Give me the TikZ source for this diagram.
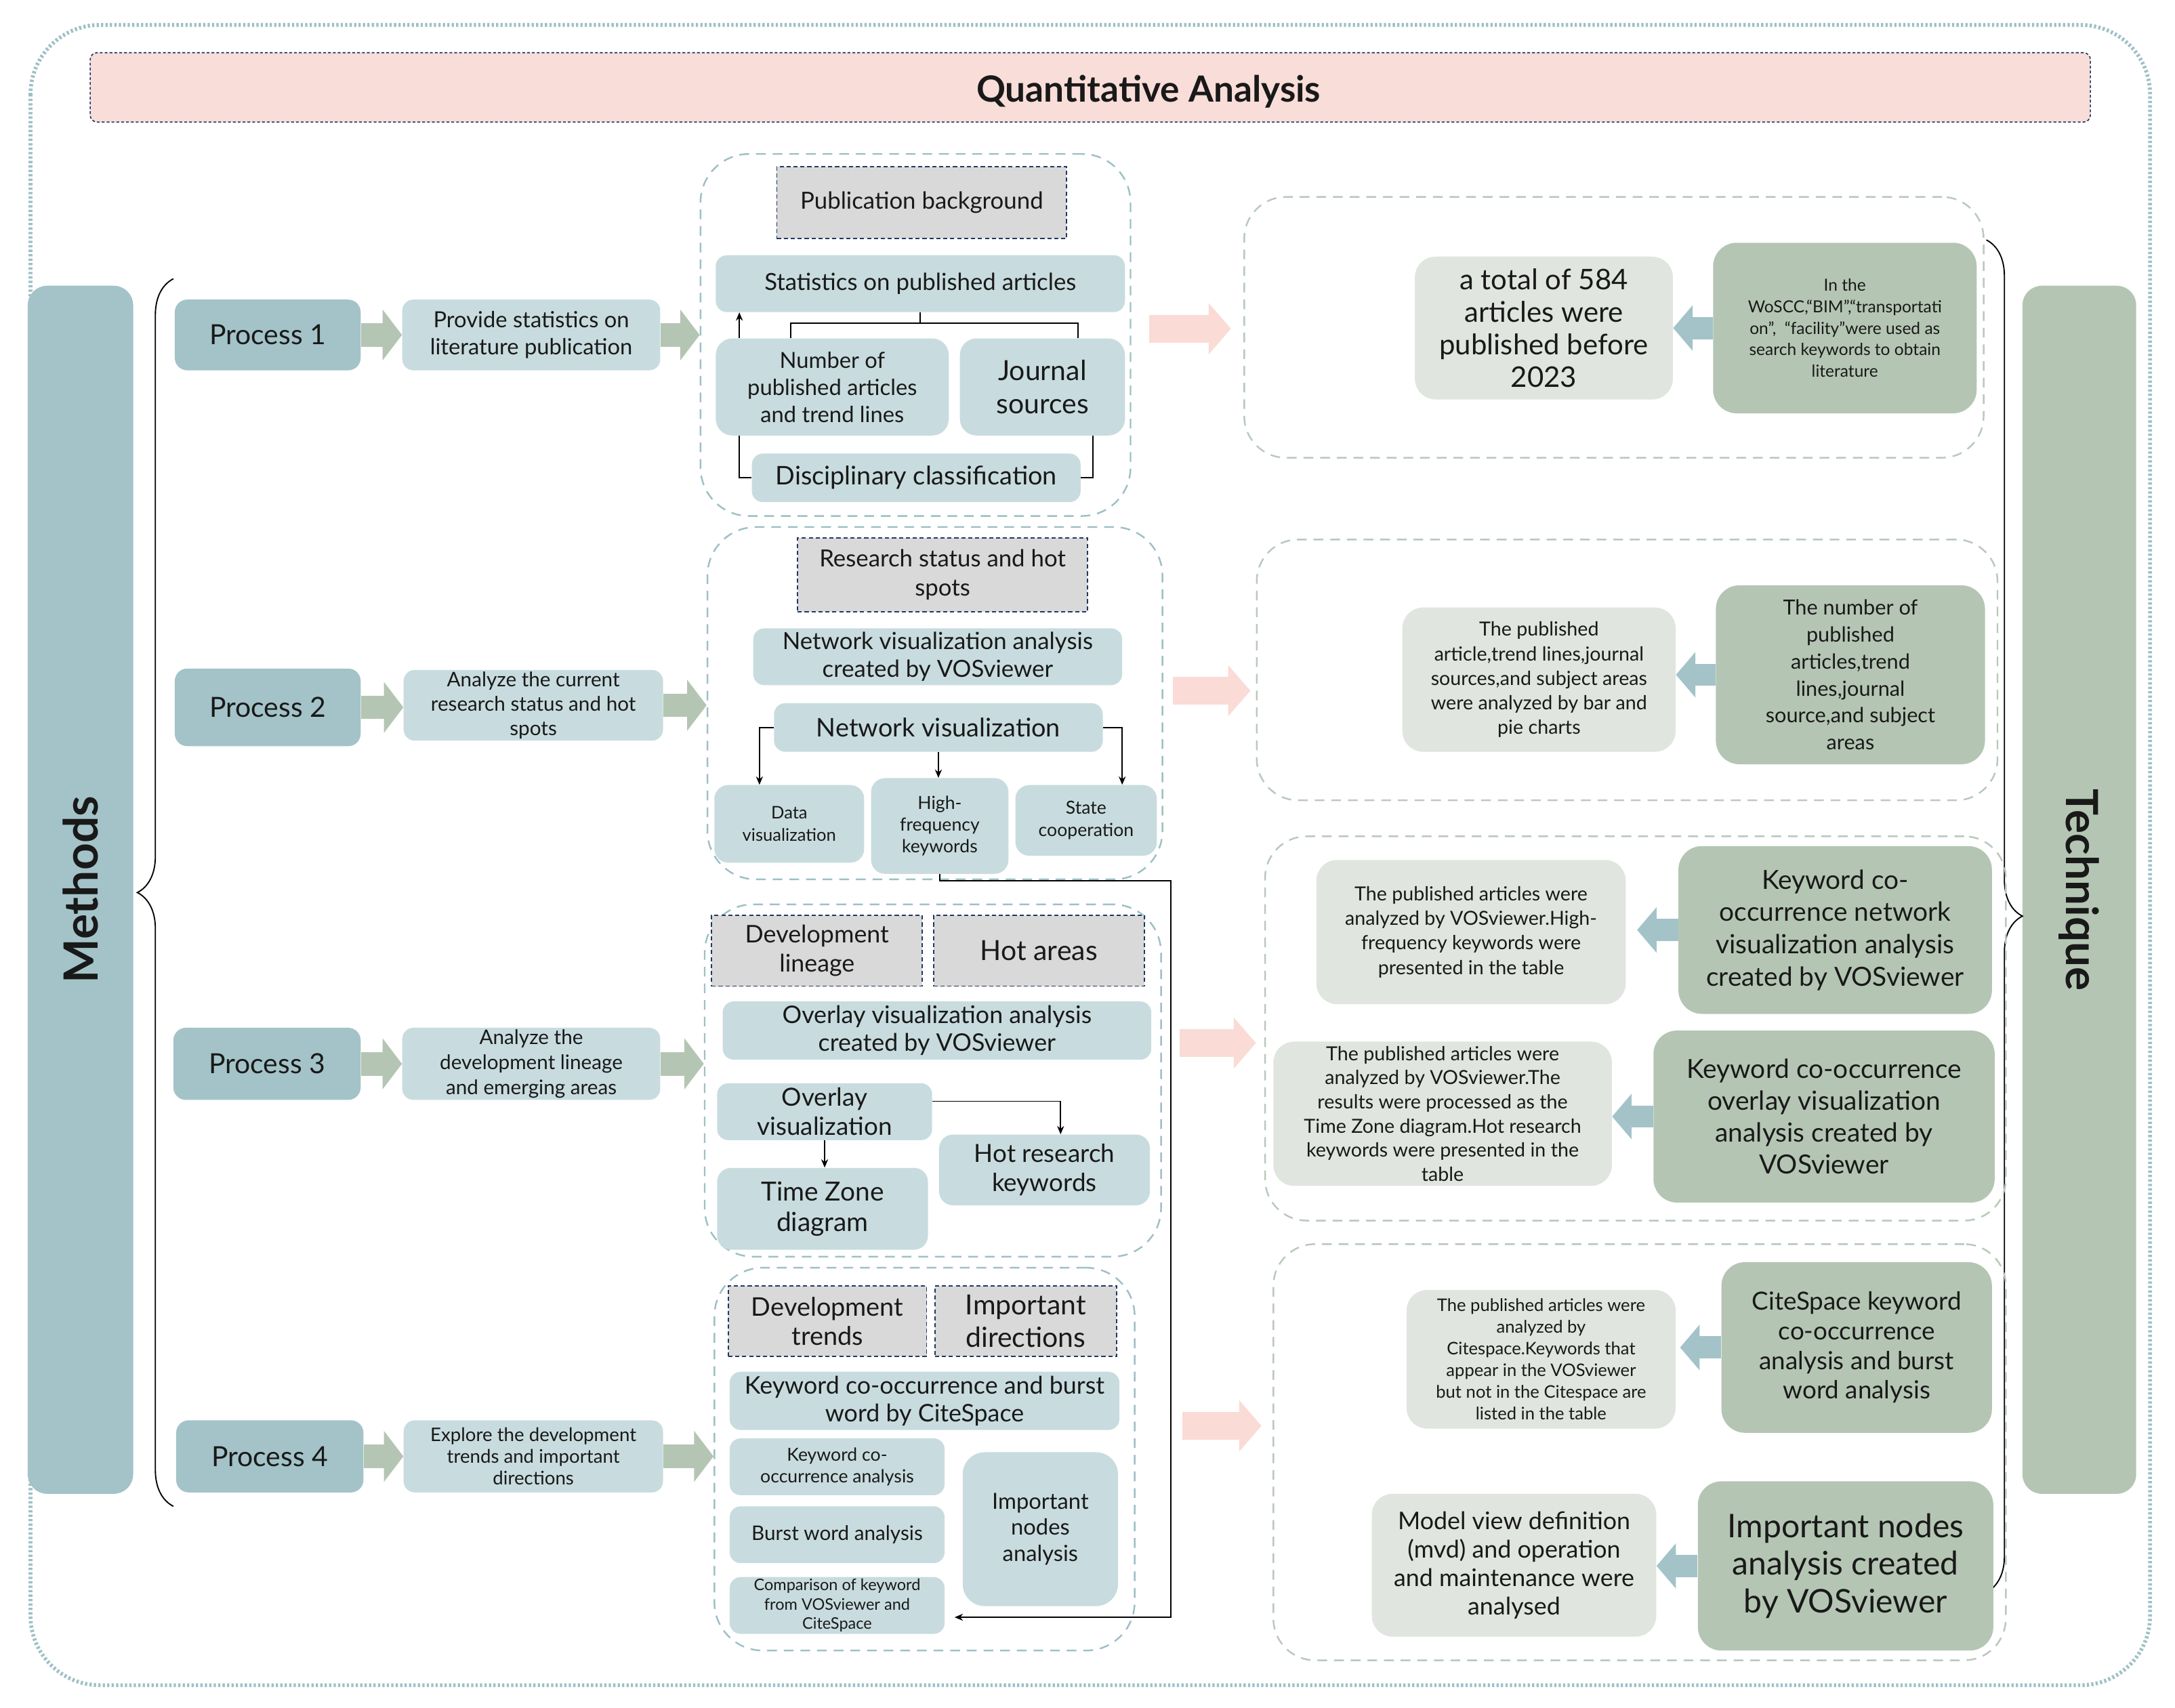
\documentclass[tikz,border=0pt]{standalone}
\usepackage{fontspec}
\setmainfont{Lato}
\usetikzlibrary{arrows.meta,calc,decorations.pathreplacing}

\definecolor{procblue}{HTML}{A3C3C8}
\definecolor{lightblue}{HTML}{C8DCDF}
\definecolor{sage}{HTML}{B4C6B3}
\definecolor{sagelight}{HTML}{E0E5DF}
\definecolor{headgray}{HTML}{D9D9D9}
\definecolor{navy}{HTML}{203864}
\definecolor{pinkbar}{HTML}{F8DDD8}
\definecolor{pinkarr}{HTML}{FADBD5}
\definecolor{frameblue}{HTML}{9EC0C6}
\definecolor{panelgreen}{HTML}{B9C9BB}

\tikzset{
  fs/.style 2 args={font=\fontsize{#1}{#2}\selectfont},
  sz/.style 2 args={minimum width=#1pt, minimum height=#2pt},
  box/.style={inner sep=0pt, align=center, text=black!90},
  procbox/.style={box, fill=procblue, rounded corners=9pt},
  descbox/.style={box, fill=lightblue, rounded corners=8pt},
  headbox/.style={box, fill=headgray, draw=navy, line width=0.9pt, dash pattern=on 3pt off 2pt},
  resbox/.style={box, fill=sagelight, rounded corners=15pt},
  techbox/.style={box, fill=sage, rounded corners=17pt},
  panel/.style={draw=frameblue, line width=1.2pt, dash pattern=on 7pt off 5pt, rounded corners=35pt, inner sep=0pt},
  techpanel/.style={panel, draw=panelgreen, rounded corners=30pt},
  plain/.style={line width=0.9pt, black},
  link/.style={plain, -{Stealth[length=6pt,width=5pt]}},
  greenarrow/.style={line width=17pt, draw=sage, -{Triangle[length=14pt,width=36pt]}},
  pinkarrow/.style={line width=20pt, draw=pinkarr, -{Triangle[length=16pt,width=36pt]}},
  bluearrow/.style={line width=16pt, draw=procblue, -{Triangle[length=14pt,width=32pt]}},
}

\begin{document}
\begin{tikzpicture}[x=1pt, y=-1pt]
  \fill[white] (0,0) rectangle (1568,1231.4);
  \useasboundingbox (0,0) rectangle (1568,1231.4);

  % outer frame and title
  \draw[draw=frameblue, line width=2.8pt, dash pattern=on 1.6pt off 1.6pt, rounded corners=50pt] (22,18) rectangle (1550,1215);
  \node[box, fill=pinkbar, draw=navy, line width=0.8pt, dash pattern=on 2pt off 1.5pt, rounded corners=5pt, sz={1442}{50}] (title) at (786,63) {};
  \node[box, font=\fontsize{26}{30}\selectfont\bfseries] (titletext) at ($(title.center)+(42,3)$) {Quantitative Analysis};

  % side bars
  \node[procbox, rotate=90, sz={871}{76}, rounded corners=14pt, font=\fontsize{34}{38}\selectfont\bfseries] (meth) at (58,641.5) {Methods};
  \node[techbox, rotate=-90, sz={871}{82}, rounded corners=14pt, font=\fontsize{32}{36}\selectfont\bfseries] (tech) at (1499,641.5) {Technique};
  \draw[plain, decorate, decoration={brace, amplitude=26pt}] (125,1086) -- (125,201);
  \draw[plain, decorate, decoration={brace, amplitude=26pt}] (1432,173) -- (1432,1148);

  % processes
  \node[procbox, sz={134}{51}, fs={20}{24}] (p1) at (193,241.5) {Process 1};
  \node[procbox, sz={134}{56}, fs={20}{24}] (p2) at (193,510) {Process 2};
  \node[procbox, sz={135}{52}, fs={20}{24}] (p3) at (192.5,767) {Process 3};
  \node[procbox, sz={135}{52}, fs={20}{24}] (p4) at (194.5,1050) {Process 4};

  \node[descbox, sz={186}{51}, fs={16}{19.5}] (d1) at (383,241.5) {Provide statistics on\\literature publication};
  \node[descbox, sz={187}{51}, fs={14.5}{17.5}] (d2) at (384.5,508.5) {Analyze the current\\research status and hot\\spots};
  \node[descbox, sz={186}{52}, fs={14.5}{18}] (d3) at (383,767) {Analyze the\\development lineage\\and emerging areas};
  \node[descbox, sz={187}{52}, fs={13.5}{15.5}] (d4) at (384.5,1050) {Explore the development\\trends and important\\directions};

  % middle panels
  \node[panel, sz={310}{261}] (m1) at (660,241.5) {};
  \node[panel, sz={328}{254}] (m2) at (674,507) {};
  \node[panel, sz={329}{254}] (m3) at (672.5,779) {};
  \node[panel, sz={303}{276}] (m4) at (666.5,1052) {};

  \foreach \i in {1,...,4} {
    \draw[greenarrow] (p\i.east) -- (p\i.east -| d\i.west);
    \draw[greenarrow] (d\i.east) -- (d\i.east -| m\i.west);
  }

  % panel 1
  \node[headbox, sz={209}{52}, fs={17}{20}] (pb) at (664.5,146) {Publication background};
  \node[descbox, sz={295}{41}, fs={17}{20}] (sta) at (663.5,204.5) {Statistics on published articles};
  \node[descbox, sz={168}{70}, rounded corners=12pt, fs={16}{19.5}] (num) at (600,279) {Number of\\published articles\\and trend lines};
  \node[descbox, sz={119}{70}, rounded corners=12pt, fs={20}{24}] (jou) at (751.5,279) {Journal\\sources};
  \node[descbox, sz={237}{35}, fs={18.5}{22}] (dis) at (660.5,344.5) {Disciplinary classification};
  \draw[plain] (sta.south) -- ++(0,8.5);
  \draw[plain] ([xshift=-30pt]num.north) -- ++(0,-11) -| ([xshift=25.5pt]jou.north);
  \coordinate (nl) at ([xshift=-67pt]num.north);
  \coordinate (jr) at ([xshift=36.5pt]jou.south);
  \draw[link] (nl) -- (nl |- sta.south);
  \draw[plain] (nl |- num.south) |- (dis.west);
  \draw[plain] (jr) |- (dis.east);

  % panel 2
  \node[headbox, sz={209}{53}, fs={17}{21}] (rs) at (679.5,414.5) {Research status and hot\\spots};
  \node[descbox, sz={266}{41}, fs={17}{20}] (nva) at (676,473.5) {Network visualization analysis\\created by VOSviewer};
  \node[descbox, sz={237}{35}, fs={18.5}{22}] (nv) at (676.5,524.5) {Network visualization};
  \node[descbox, sz={108}{56}, rounded corners=10pt, fs={12.5}{16}] (dv) at (569,594) {Data\\visualization};
  \node[descbox, sz={99}{69}, rounded corners=10pt, fs={13}{15.5}] (hf) at (677.5,595.5) {High-\\frequency\\keywords};
  \node[descbox, sz={102}{51}, rounded corners=10pt, fs={13}{16}] (sc) at (783,591.5) {State\\cooperation};
  \draw[link] (nv.west) -| ([xshift=-21.5pt]dv.north);
  \draw[link] (nv.south) -- (nv.south |- hf.north);
  \draw[link] (nv.east) -| ([xshift=26pt]sc.north);

  % panel 3
  \node[headbox, sz={152}{51}, fs={17.5}{21}] (dl) at (589,685.5) {Development\\lineage};
  \node[headbox, sz={152}{51}, fs={20}{24}] (ha) at (749,685.5) {Hot areas};
  \node[descbox, sz={309}{42}, fs={17.5}{20}] (ova) at (675.5,743) {Overlay visualization analysis\\created by VOSviewer};
  \node[descbox, sz={155}{41}, fs={18}{21}] (ov) at (594.5,801.5) {Overlay\\visualization};
  \node[descbox, sz={152}{59}, rounded corners=10pt, fs={19}{22}] (tz) at (593,871.5) {Time Zone\\diagram};
  \node[descbox, sz={152}{51}, rounded corners=10pt, fs={18}{21}] (hr) at (753,843.5) {Hot research\\keywords};
  \draw[link] ($(ov.east)+(0,-7.5)$) -| ($(hr.north)+(11.6,0)$);
  \draw[link] (ov.south) -- (ov.south |- tz.north);

  % panel 4
  \node[headbox, sz={143}{51}, fs={18.5}{21}] (dt) at (596.5,952.5) {Development\\trends};
  \node[headbox, sz={131}{51}, fs={20}{23}] (id) at (739.5,952.5) {Important\\directions};
  \node[descbox, sz={281}{42}, fs={17.5}{20}] (kcb) at (666.5,1010) {Keyword co-occurrence and burst\\word by CiteSpace};
  \node[descbox, sz={155}{41}, fs={13}{16}] (kca) at (603.5,1057.5) {Keyword co-\\occurrence analysis};
  \node[descbox, sz={155}{41}, fs={14.5}{17}] (bwa) at (603.5,1106.5) {Burst word analysis};
  \node[descbox, sz={155}{41}, fs={11.5}{14}] (cmp) at (603.5,1157.5) {Comparison of keyword\\from VOSviewer and\\CiteSpace};
  \node[descbox, sz={112}{111}, rounded corners=16pt, fs={16}{19}] (ina) at (750,1102.5) {Important\\nodes\\analysis};
  \coordinate (bend) at (844,635);
  \draw[link] (hf.south) |- (bend) |- ($(cmp.east)+(7,8.5)$);

  % right panels
  \node[techpanel, sz={533}{188}] (r1) at (1163.5,236) {};
  \node[techpanel, sz={534}{188}] (r2) at (1173,483) {};
  \node[techpanel, sz={534}{277}] (r3) at (1179,741.5) {};
  \node[techpanel, sz={528}{300}] (r4) at (1182,1047) {};

  \draw[pinkarrow] ($(m1.east)+(13,-4.5)$) -- ($(r1.west)+(-9,1)$);
  \draw[pinkarrow] ($(m2.east)+(7,-9)$) -- ($(r2.west)+(-4,15)$);
  \draw[pinkarrow] ($(m3.east)+(13,-27)$) -- ($(r3.west)+(-6,10.5)$);
  \draw[pinkarrow] ($(m4.east)+(34,-24)$) -- ($(r4.west)+(-8,-19)$);

  \node[resbox, sz={186}{103}, fs={20.5}{23.3}] (tot) at (1113,236.5) {a total of 584\\articles were\\published before\\2023};
  \node[techbox, sz={190}{123}, fs={12}{15.5}] (woscc) at (1330,236.5) {In the\\WoSCC,“BIM”,“transportati\\on”,\enspace “facility”were used as\\search keywords to obtain\\literature};

  \node[resbox, sz={197}{104}, fs={14}{17.7}] (bar) at (1109.5,490) {The published\\article,trend lines,journal\\sources,and subject areas\\were analyzed by bar and\\pie charts};
  \node[techbox, sz={194}{129}, fs={15}{19.4}] (numb) at (1334,486.5) {The number of\\published\\articles,trend\\lines,journal\\source,and subject\\areas};

  \node[resbox, sz={223}{104}, fs={14}{17.7}] (vhf) at (1060.5,672) {The published articles were\\analyzed by VOSviewer.High-\\frequency keywords were\\presented in the table};
  \node[techbox, sz={226}{121}, fs={19}{23.3}] (kcn) at (1323,670.5) {Keyword co-\\occurrence network\\visualization analysis\\created by VOSviewer};
  \node[resbox, sz={244}{104}, fs={14}{17.4}] (vtz) at (1040,803) {The published articles were\\analyzed by VOSviewer.The\\results were processed as the\\Time Zone diagram.Hot research\\keywords were presented in the\\table};
  \node[techbox, sz={246}{124}, fs={19}{23}] (kco) at (1315,805) {Keyword co-occurrence\\overlay visualization\\analysis created by\\VOSviewer};

  \node[resbox, sz={194}{100}, fs={12.5}{15.6}] (cit) at (1111,980) {The published articles were\\analyzed by\\Citespace.Keywords that\\appear in the VOSviewer\\but not in the Citespace are\\listed in the table};
  \node[techbox, sz={195}{123}, fs={18}{21.3}] (csk) at (1338.5,971.5) {CiteSpace keyword\\co-occurrence\\analysis and burst\\word analysis};
  \node[resbox, sz={205}{103}, fs={17.5}{20.6}] (mvd) at (1091.5,1128.5) {Model view definition\\(mvd) and operation\\and maintenance were\\analysed};
  \node[techbox, sz={213}{122}, fs={23.5}{27}] (imp) at (1330.5,1129) {Important nodes\\analysis created\\by VOSviewer};

  \draw[bluearrow] (woscc.west) -- (woscc.west -| tot.east);
  \draw[bluearrow] (numb.west) -- (numb.west -| bar.east);
  \draw[bluearrow] (kcn.west) -- ($(kcn.west -| vhf.east)+(8,0)$);
  \draw[bluearrow] (kco.west) -- (kco.west -| vtz.east);
  \draw[bluearrow] (csk.west) -- ($(csk.west -| cit.east)+(3,0)$);
  \draw[bluearrow] (imp.west) -- (imp.west -| mvd.east);
\end{tikzpicture}
\end{document}
